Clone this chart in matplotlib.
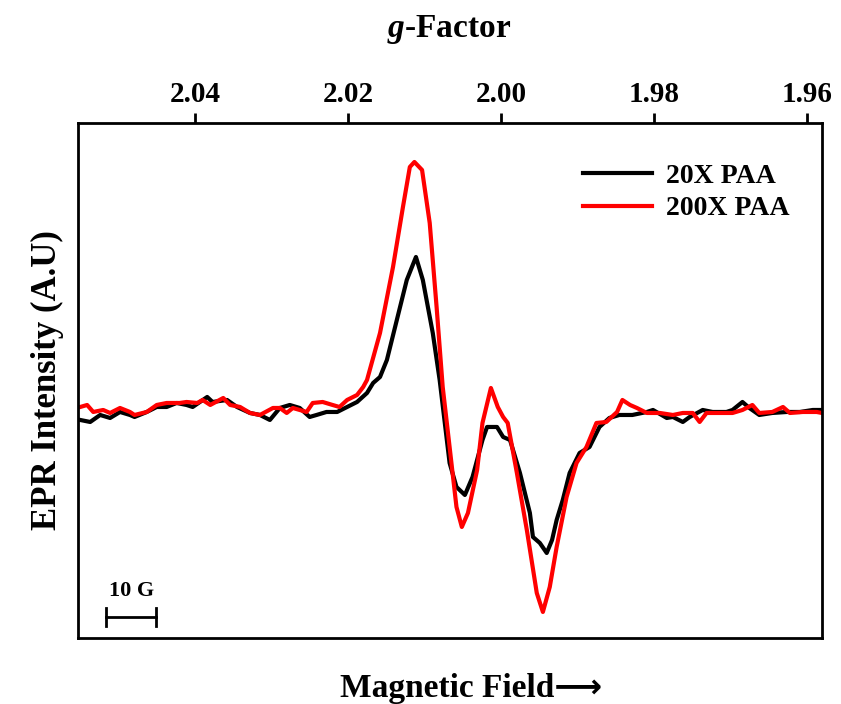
import matplotlib
matplotlib.use("Agg")
import matplotlib.pyplot as plt

plt.rcParams['font.family'] = ['Liberation Serif', 'DejaVu Sans']
plt.rcParams['font.weight'] = 'bold'
plt.rcParams['mathtext.fontset'] = 'custom'
plt.rcParams['mathtext.it'] = 'Liberation Serif:italic:bold'
plt.rcParams['mathtext.rm'] = 'Liberation Serif:bold'

# 20X PAA (g-factor, intensity a.u.)
g_20x = [2.0550, 2.0537, 2.0524, 2.0511, 2.0498, 2.0485, 2.0479, 2.0463, 2.0450, 2.0437,
         2.0424, 2.0411, 2.0403, 2.0384, 2.0377, 2.0358, 2.0345, 2.0328, 2.0315, 2.0302,
         2.0289, 2.0276, 2.0263, 2.0250, 2.0241, 2.0228, 2.0214, 2.0201, 2.0188, 2.0175,
         2.0167, 2.0158, 2.0149, 2.0136, 2.0123, 2.0111, 2.0102, 2.0089, 2.0080, 2.0067,
         2.0058, 2.0047, 2.0037, 2.0024, 2.0018, 2.0005, 1.9997, 1.9988, 1.9975, 1.9962,
         1.9958, 1.9949, 1.9940, 1.9933, 1.9927, 1.9919, 1.9910, 1.9897, 1.9884, 1.9871,
         1.9858, 1.9845, 1.9828, 1.9809, 1.9801, 1.9783, 1.9775, 1.9762, 1.9753, 1.9736,
         1.9723, 1.9705, 1.9697, 1.9684, 1.9675, 1.9662, 1.9645, 1.9626, 1.9609, 1.9592,
         1.9580]
i_20x = [-10, -12, -5, -8, -2, -5, -7, -2, 3, 3,
         7, 5, 3, 13, 8, 10, 3, -3, -5, -10,
         2, 5, 2, -7, -5, -2, -2, 3, 8, 17,
         27, 33, 50, 90, 130, 153, 130, 77, 30, -53,
         -77, -85, -67, -30, -17, -17, -27, -30, -63, -103,
         -127, -133, -143, -130, -110, -90, -63, -43, -37, -17,
         -8, -5, -5, -2, 0, -8, -7, -12, -7, 0,
         -2, -2, 0, 8, 2, -5, -3, -2, -2, 0,
         0]

# 200X PAA
g_200x = [2.0550, 2.0541, 2.0533, 2.0520, 2.0511, 2.0498, 2.0485, 2.0479, 2.0463, 2.0450,
          2.0437, 2.0420, 2.0411, 2.0397, 2.0390, 2.0380, 2.0363, 2.0354, 2.0341, 2.0328,
          2.0315, 2.0298, 2.0289, 2.0280, 2.0272, 2.0254, 2.0246, 2.0233, 2.0220, 2.0211,
          2.0201, 2.0188, 2.0180, 2.0175, 2.0158, 2.0141, 2.0128, 2.0119, 2.0113, 2.0103,
          2.0093, 2.0084, 2.0076, 2.0067, 2.0058, 2.0051, 2.0043, 2.0031, 2.0024, 2.0013,
          2.0004, 1.9997, 1.9991, 1.9979, 1.9966, 1.9953, 1.9945, 1.9936, 1.9927, 1.9914,
          1.9901, 1.9888, 1.9875, 1.9862, 1.9848, 1.9841, 1.9831, 1.9822, 1.9809, 1.9792,
          1.9775, 1.9762, 1.9749, 1.9740, 1.9731, 1.9714, 1.9697, 1.9684, 1.9671, 1.9662,
          1.9645, 1.9631, 1.9622, 1.9605, 1.9587, 1.9580]
i_200x = [3, 5, -2, 0, -3, 2, -2, -5, -2, 5,
          7, 7, 8, 7, 10, 5, 12, 5, 3, -3,
          -5, 2, 2, -3, 2, -2, 7, 8, 5, 3,
          10, 15, 23, 30, 77, 143, 203, 243, 248, 240,
          187, 103, 23, -37, -97, -117, -103, -60, -13, 22,
          3, -7, -13, -63, -120, -183, -202, -177, -137, -87,
          -53, -37, -13, -12, -2, 10, 5, 2, -3, -3,
          -5, -3, -3, -12, -3, -3, -3, 0, 5, -3,
          -2, 3, -3, -2, -2, -3]

g_ticks = [2.04, 2.02, 2.00, 1.98, 1.96]
g_tick_labels = ['2.04', '2.02', '2.00', '1.98', '1.96']

fig = plt.figure(figsize=(8.41, 7.04), dpi=100)
ax = fig.add_axes([0.0927, 0.0938, 0.8847, 0.7315])

ax.plot(g_20x, i_20x, color='black', lw=3, label='20X PAA', solid_joinstyle='round')
ax.plot(g_200x, i_200x, color='red', lw=3, label='200X PAA', solid_joinstyle='round')

ax.set_xlim(2.0553, 1.9580)
ax.set_ylim(-228, 287)

ax.set_xticks(g_ticks)
ax.set_xticklabels(g_tick_labels)
ax.tick_params(axis='x', top=True, labeltop=True, bottom=False, labelbottom=False,
               direction='out', length=7, width=2, labelsize=21, pad=4)
ax.tick_params(axis='y', left=False, labelleft=False)
for s in ax.spines.values():
    s.set_linewidth(2)

ax.set_ylabel('EPR Intensity (A.U)', fontsize=25, fontweight='bold', labelpad=10)

# 10 G scale bar
bar_g = [2.0516, 2.0451]
bar_y = -207
ax.plot(bar_g, [bar_y, bar_y], color='black', lw=2)
for gx in bar_g:
    ax.plot([gx, gx], [bar_y - 9, bar_y + 9], color='black', lw=2)
ax.text(sum(bar_g) / 2, bar_y + 16, '10 G', ha='center', va='bottom',
        fontsize=16, fontweight='bold')

leg = ax.legend(loc='upper right', bbox_to_anchor=(0.99, 0.97), frameon=False,
                fontsize=20, handlelength=2.5, handletextpad=0.5, labelspacing=0.25)
for line in leg.get_lines():
    line.set_linewidth(3)

fig.text(449 / 841, 1 - 30 / 704, '$g$-Factor', ha='center', va='center',
         fontsize=24, fontweight='bold')
fig.text(471 / 841, 1 - 688 / 704, 'Magnetic Field\u27f6', ha='center', va='center',
         fontsize=24, fontweight='bold')

fig.savefig('out.png', dpi=100)
